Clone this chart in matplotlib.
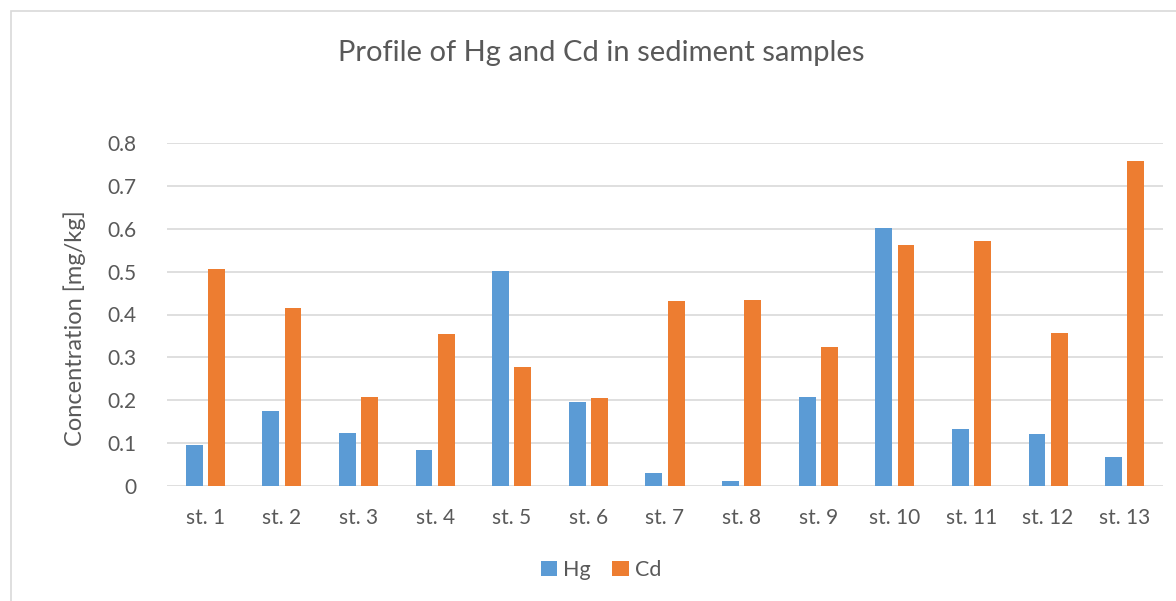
import matplotlib.pyplot as plt
import numpy as np
from matplotlib.patches import Rectangle

# Data
stations = ['st. 1', 'st. 2', 'st. 3', 'st. 4', 'st. 5', 'st. 6', 'st. 7',
            'st. 8', 'st. 9', 'st. 10', 'st. 11', 'st. 12', 'st. 13']
hg = [0.096, 0.175, 0.124, 0.084, 0.501, 0.196, 0.030,
      0.012, 0.208, 0.602, 0.133, 0.121, 0.068]
cd = [0.506, 0.415, 0.208, 0.355, 0.278, 0.205, 0.431,
      0.434, 0.324, 0.562, 0.571, 0.357, 0.758]

plt.rcParams['font.family'] = ['Lato', 'DejaVu Sans']
text_col = '#595959'

W, H = 1176, 601
fig = plt.figure(figsize=(W / 100, H / 100), dpi=100)
ax = fig.add_axes([167 / W, 1 - 486 / H, (1163 - 167) / W, (486 - 143) / H])

x = np.arange(len(stations))
ax.bar(x - 0.145, hg, width=0.22, color='#5B9BD5', label='Hg', zorder=3)
ax.bar(x + 0.145, cd, width=0.22, color='#ED7D31', label='Cd', zorder=3)

ax.set_xlim(-0.5, len(stations) - 0.5)
ax.set_ylim(0, 0.8)
ax.set_yticks(np.arange(0, 0.81, 0.1))
ax.set_yticklabels(['0'] + [f'{v:.1f}' for v in np.arange(0.1, 0.81, 0.1)])
ax.set_xticks(x)
ax.set_xticklabels(stations)
ax.tick_params(axis='both', length=0, labelsize=15, colors=text_col)
ax.tick_params(axis='x', pad=16)
ax.tick_params(axis='y', pad=22)
ax.grid(axis='y', color='#D9D9D9', linewidth=1.2, zorder=0)
for s in ax.spines.values():
    s.set_visible(False)

fig.text(75 / W, 1 - 328 / H, 'Concentration [mg/kg]', rotation=90,
         ha='center', va='center', fontsize=17, color=text_col)
fig.text(601 / W, 1 - 53 / H, 'Profile of Hg and Cd in sediment samples',
         ha='center', va='center', fontsize=21, color=text_col)

ax.legend(loc='center', bbox_to_anchor=(601 / W, 1 - 570 / H),
          bbox_transform=fig.transFigure, ncol=2, frameon=False,
          fontsize=15.5, labelcolor=text_col, handlelength=0.75,
          handleheight=0.75, handletextpad=0.3, columnspacing=1.0)

# outer chart border
fig.patches.append(Rectangle((11 / W, -0.1), 1.2, 1 - 11 / H + 0.1,
                             transform=fig.transFigure, fill=False,
                             edgecolor='#D9D9D9', linewidth=1.2))

fig.savefig('out.png', dpi=100)
